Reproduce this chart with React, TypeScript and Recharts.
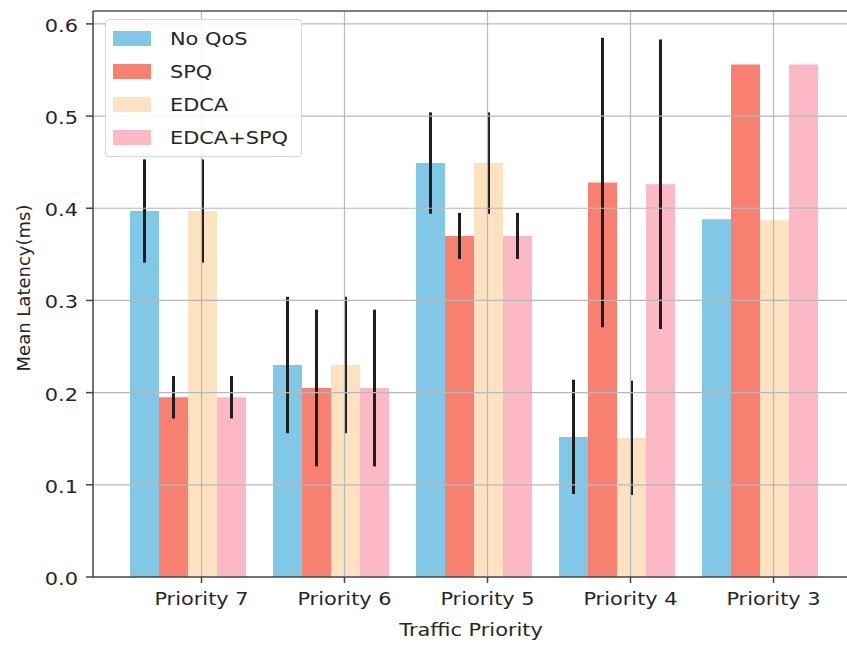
import React from 'react';
import {
  BarChart,
  Bar,
  XAxis,
  YAxis,
  ErrorBar,
  ReferenceLine,
} from 'recharts';

const priorities = ['Priority 7', 'Priority 6', 'Priority 5', 'Priority 4', 'Priority 3'];

// mean latency per priority and its spread, one pair per scheme
const noQos = [0.397, 0.230, 0.449, 0.152, 0.388];
const noQosErr = [0.056, 0.074, 0.055, 0.062, 0];
const spq = [0.195, 0.205, 0.370, 0.428, 0.556];
const spqErr = [0.023, 0.085, 0.025, 0.157, 0];
const edca = [0.397, 0.230, 0.449, 0.151, 0.387];
const edcaErr = [0.056, 0.074, 0.055, 0.062, 0];
const edcaSpq = [0.195, 0.205, 0.370, 0.426, 0.556];
const edcaSpqErr = [0.023, 0.085, 0.025, 0.157, 0];

const yTicks = [0, 0.1, 0.2, 0.3, 0.4, 0.5, 0.6];
const yMax = 0.614;

const series = [
  { key: 'noQos', name: 'No QoS', color: '#80C8E6' },
  { key: 'spq', name: 'SPQ', color: '#F88070' },
  { key: 'edca', name: 'EDCA', color: '#FDE2C2' },
  { key: 'edcaSpq', name: 'EDCA+SPQ', color: '#FDB8C6' },
];

const rows = priorities.map((priority, i) => ({
  priority,
  noQos: noQos[i],
  noQosErr: noQosErr[i],
  spq: spq[i],
  spqErr: spqErr[i],
  edca: edca[i],
  edcaErr: edcaErr[i],
  edcaSpq: edcaSpq[i],
  edcaSpqErr: edcaSpqErr[i],
}));

const FONT = '"DejaVu Sans", sans-serif';
const TEXT = '#262626';
const GRID = '#b8b8b8';
const STRETCH = 1.16;

const XTick = (props: any) => {
  const { x, y, payload } = props;
  return (
    <g transform={`translate(${x},${y})`}>
      <text
        transform={`scale(${STRETCH},1)`}
        x={0}
        y={0}
        dy={20}
        textAnchor="middle"
        fill={TEXT}
        fontSize={18}
        fontFamily={FONT}
      >
        {payload.value}
      </text>
    </g>
  );
};

const YTick = (props: any) => {
  const { x, y, payload } = props;
  return (
    <g transform={`translate(${x - 6},${y})`}>
      <text
        transform={`scale(${STRETCH},1)`}
        x={0}
        y={0}
        dy={8}
        textAnchor="end"
        fill={TEXT}
        fontSize={18}
        fontFamily={FONT}
      >
        {Number(payload.value).toFixed(1)}
      </text>
    </g>
  );
};

const YTitle = (props: any) => {
  const { viewBox } = props;
  const cx = 30;
  const cy = viewBox.y + viewBox.height / 2 - 6;
  return (
    <text
      x={cx}
      y={cy}
      transform={`rotate(-90, ${cx}, ${cy})`}
      textAnchor="middle"
      fill={TEXT}
      fontSize={18}
      fontFamily={FONT}
    >
      Mean Latency(ms)
    </text>
  );
};

// title sits under the visible part of the axis, not the clipped tail
const XTitle = () => (
  <g transform="translate(471,636)">
    <text
      transform={`scale(${STRETCH},1)`}
      textAnchor="middle"
      fill={TEXT}
      fontSize={18}
      fontFamily={FONT}
    >
      Traffic Priority
    </text>
  </g>
);

// legend box laid over the top-left of the plot
const LegendBox = () => (
  <div
    style={{
      position: 'absolute',
      left: 105,
      top: 19,
      width: 197,
      height: 138,
      boxSizing: 'border-box',
      border: '1px solid #d8d8d8',
      borderRadius: 4,
      background: 'rgba(255,255,255,0.85)',
      padding: '2px 0 0 7px',
      fontFamily: FONT,
    }}
  >
    {series.map((s) => (
      <div key={s.key} style={{ display: 'flex', alignItems: 'center', height: 33 }}>
        <span style={{ display: 'inline-block', width: 38, height: 15, background: s.color }} />
        <span
          style={{
            display: 'inline-block',
            marginLeft: 19,
            fontSize: 18,
            color: TEXT,
            transform: `scaleX(${STRETCH})`,
            transformOrigin: 'left center',
            whiteSpace: 'nowrap',
          }}
        >
          {s.name}
        </span>
      </div>
    ))}
  </div>
);

export default function App() {
  return (
    <div style={{ position: 'fixed', left: 0, top: 0, width: 847, height: 645, overflow: 'hidden', background: '#fff' }}>
      {/* keep the page itself from ever growing scrollbars */}
      <style>{'html, body { margin: 0; overflow: hidden; }'}</style>
      {/* plot runs past the right edge so the frame is cut off there */}
      <BarChart
        width={870}
        height={645}
        data={rows}
        margin={{ top: 11, right: 0, bottom: 0, left: 0 }}
        barCategoryGap={0}
        barGap={0}
      >
        <XAxis
          dataKey="priority"
          height={68}
          padding={{ left: 37, right: 25 }}
          tickSize={6}
          tickLine={{ stroke: '#444', strokeWidth: 1.5 }}
          axisLine={{ stroke: '#444', strokeWidth: 1.5 }}
          tick={<XTick />}
          interval={0}
          label={<XTitle />}
        />
        <YAxis
          width={93}
          domain={[0, yMax]}
          ticks={yTicks}
          tickSize={7}
          tickLine={{ stroke: '#444', strokeWidth: 1.5 }}
          axisLine={{ stroke: '#444', strokeWidth: 1.5 }}
          tick={<YTick />}
          label={<YTitle />}
        />
        {series.map((s) => (
          <Bar key={s.key} dataKey={s.key} name={s.name} fill={s.color} isAnimationActive={false}>
            <ErrorBar dataKey={`${s.key}Err`} width={0} stroke="#1e1e1e" strokeWidth={3} direction="y" />
          </Bar>
        ))}
        {/* empty fifth slot so each tick sits on the EDCA bar */}
        <Bar dataKey="spacer" legendType="none" isAnimationActive={false} />
        {/* grid lines drawn over the bars */}
        {yTicks.slice(1).map((t) => (
          <ReferenceLine key={`h${t}`} y={t} stroke={GRID} strokeWidth={1.2} />
        ))}
        {priorities.map((p) => (
          <ReferenceLine key={`v${p}`} x={p} stroke={GRID} strokeWidth={1.2} />
        ))}
        <ReferenceLine y={yMax} stroke="#555" strokeWidth={1.5} />
      </BarChart>
      <LegendBox />
    </div>
  );
}
